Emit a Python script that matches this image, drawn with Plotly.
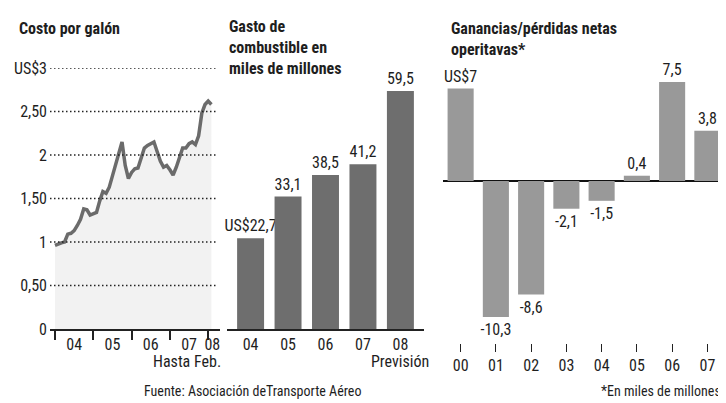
import plotly.graph_objects as go

# ---------------- data ----------------
# Panel 1: monthly jet fuel cost per gallon, Jan 2004 .. Feb 2008
costo = [0.96, 0.98, 0.99, 1.00, 1.09, 1.10, 1.13, 1.19, 1.26, 1.38, 1.37, 1.31,
         1.32, 1.34, 1.47, 1.58, 1.56, 1.63, 1.76, 1.90, 2.02, 2.15, 1.88, 1.73,
         1.80, 1.84, 1.85, 1.98, 2.08, 2.11, 2.13, 2.15, 2.04, 1.93, 1.86, 1.88,
         1.83, 1.77, 1.86, 1.97, 2.08, 2.08, 2.13, 2.15, 2.12, 2.22, 2.48, 2.58,
         2.62, 2.58]
meses = list(range(len(costo)))
p1_year_ticks = [0, 12, 24, 36, 48]
p1_label_pos = [6, 18, 30, 42, 49.3]
p1_labels = ["04", "05", "06", "07", "08"]
p1_yvals = [0, 0.5, 1, 1.5, 2, 2.5, 3]
p1_ylabels = ["0", "0,50", "1", "1,50", "2", "2,50", "US$3"]

# Panel 2: fuel spending (billions)
gasto_anios = ["04", "05", "06", "07", "08"]
gasto = [22.7, 33.1, 38.5, 41.2, 59.5]

# Panel 3: net operating profit/loss (billions)
gan_anios = ["00", "01", "02", "03", "04", "05", "06", "07"]
ganancias = [7.0, -10.3, -8.6, -2.1, -1.5, 0.4, 7.5, 3.8]

# ---------------- helpers ----------------
W, H = 726, 403
OX, OY = 8, 8  # page body margin offset
def fx(px):
    return (px - OX) / W
def fy(py):
    return 1 - (py - OY) / H

FONT = "Roboto Condensed, Roboto, sans-serif"
TXT = "#1e1e1e"
FS = 16

def fmt(v):
    return f"{v:.1f}".replace(".", ",")

gasto_text = [("US$" + fmt(v)) if i == 0 else fmt(v) for i, v in enumerate(gasto)]
gan_text = [("US$" + f"{v:g}") if i == 0 else fmt(v) for i, v in enumerate(ganancias)]

fig = go.Figure()

fig.add_trace(go.Scatter(
    x=meses, y=costo, mode="lines", fill="tozeroy",
    fillcolor="rgba(0,0,0,0.05)", line=dict(color="#6b6b6b", width=3.5),
    xaxis="x", yaxis="y", hoverinfo="skip", showlegend=False))

fig.add_trace(go.Bar(
    x=gasto_anios, y=gasto, marker=dict(color="#6e6e6e", line=dict(width=0)),
    width=0.72, text=gasto_text, textposition="outside", constraintext="none",
    textfont=dict(size=FS, color=TXT, family=FONT), cliponaxis=False,
    xaxis="x2", yaxis="y2", showlegend=False))

fig.add_trace(go.Bar(
    x=gan_anios, y=ganancias, marker=dict(color="#999999", line=dict(width=0)),
    width=0.74, text=gan_text, textposition="outside", constraintext="none",
    textfont=dict(size=FS, color=TXT, family=FONT), cliponaxis=False,
    xaxis="x3", yaxis="y3", showlegend=False))

p1_left, p1_right = 50, 220
ppm = 38.3 / 12
x1_range = [-(55 - p1_left) / ppm, (p1_right - 55) / ppm]

bottom_px = 329
fig.update_layout(
    template="none",
    width=W, height=H,
    margin=dict(l=0, r=0, t=0, b=0, pad=0),
    paper_bgcolor="white", plot_bgcolor="rgba(0,0,0,0)",
    separators=",.",
    font=dict(family=FONT, size=FS, color=TXT),
    xaxis=dict(domain=[fx(p1_left), fx(p1_right)], range=x1_range, anchor="y",
               automargin=False, showgrid=False, zeroline=False,
               showline=True, linecolor="#222", linewidth=1.5,
               tickvals=p1_label_pos, ticktext=p1_labels, ticks="", tickangle=0,
               tickfont=dict(size=FS, color=TXT),
               minor=dict(tickvals=p1_year_ticks, ticks="outside", ticklen=9,
                          tickcolor="#222", tickwidth=1.5, showgrid=False),
               fixedrange=True),
    yaxis=dict(domain=[fy(bottom_px), fy(68)], range=[0, 3], anchor="x",
               automargin=False, tickvals=p1_yvals, ticktext=p1_ylabels, ticks="",
               showgrid=False, zeroline=False, showline=False,
               tickfont=dict(size=FS, color=TXT),
               ticklabelstandoff=2, fixedrange=True),
    xaxis2=dict(domain=[fx(227), fx(424)], range=[-0.63, 4.63], anchor="y2",
                automargin=False, type="category", showgrid=False, zeroline=False,
                showline=True, linecolor="#222", linewidth=1.5, ticks="", tickangle=0,
                tickfont=dict(size=FS, color=TXT), fixedrange=True),
    yaxis2=dict(domain=[fy(bottom_px), fy(68)], range=[0, (bottom_px - 68) / 4.0],
                anchor="x2", automargin=False, visible=False, fixedrange=True),
    xaxis3=dict(domain=[fx(443), fx(725)], anchor="free", position=fy(343),
                automargin=False, type="category", showgrid=False, zeroline=False,
                showline=False, ticks="outside", ticklen=8, tickcolor="#222",
                tickwidth=1.2, tickangle=0,
                tickfont=dict(size=FS, color=TXT), fixedrange=True),
    yaxis3=dict(domain=[fy(330), fy(70)], range=[-(330 - 181) / 13.2, (181 - 70) / 13.2],
                anchor="x3", automargin=False, showgrid=False, showticklabels=False,
                ticks="", showline=False, zeroline=True, zerolinecolor="#111",
                zerolinewidth=1.5, fixedrange=True),
)

# dotted gridlines for panel 1
shapes = []
for v in p1_yvals[1:]:
    shapes.append(dict(type="line", xref="paper", yref="y",
                       x0=fx(p1_left), x1=fx(216), y0=v, y1=v, layer="above",
                       line=dict(color="#222222", width=1.5, dash="1.5px,2.5px")))
fig.update_layout(shapes=shapes)

ann = []
def add_text(text, px, py, xanchor="left", yanchor="middle", size=FS, bold=False):
    t = f"<b>{text}</b>" if bold else text
    ann.append(dict(text=t, x=fx(px), y=fy(py), xref="paper", yref="paper",
                    xanchor=xanchor, yanchor=yanchor, showarrow=False,
                    font=dict(size=size, color=TXT, family=FONT), align="left"))

add_text("Costo por galón", 17, 28, bold=True)
add_text("Gasto de<br>combustible en<br>miles de millones", 227, 15, yanchor="top", bold=True)
add_text("Ganancias/pérdidas netas<br>operitavas*", 449, 17, yanchor="top", bold=True)
add_text("Hasta Feb.", 223, 361, xanchor="right")
add_text("Previsión", 400, 361, xanchor="center")
add_text("Fuente: Asociación deTransporte Aéreo", 252, 391, xanchor="center", size=14)
add_text("*En miles de millones", 723, 391, xanchor="right", size=14)
fig.update_layout(annotations=ann)

fig.write_html("out.html")
